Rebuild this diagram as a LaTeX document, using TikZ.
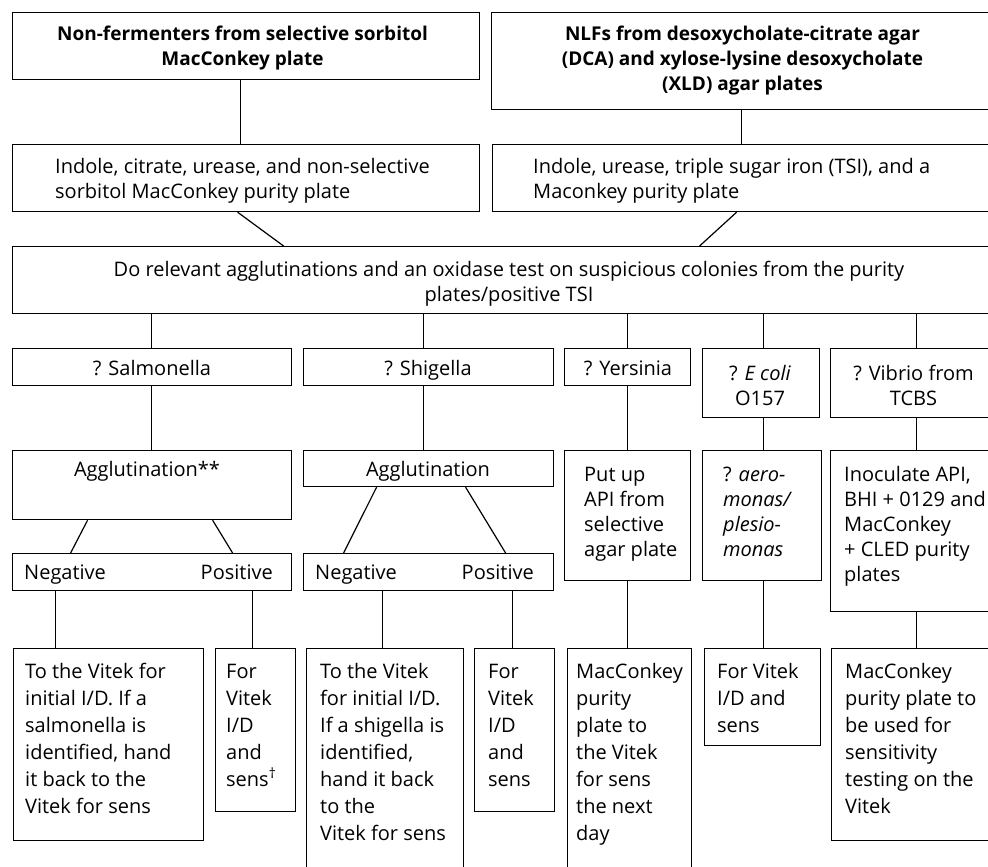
\documentclass[tikz,border=0pt]{standalone}
\usepackage{fontspec}
\setmainfont{Open Sans}
\begin{document}
\begin{tikzpicture}[x=1pt,y=-1pt,
  box/.style={draw, line width=1.2pt, rectangle, inner sep=0pt, anchor=north west},
  conn/.style={line width=1.2pt},
  tl/.style={anchor=north west, inner sep=0pt, align=left, font=\fontsize{20}{25}\selectfont},
  tc/.style={anchor=north, inner sep=0pt, align=center, font=\fontsize{20}{25}\selectfont},
  tb/.style={anchor=north, inner sep=0pt, align=center, font=\fontsize{19}{25}\selectfont\bfseries},
  tr/.style={anchor=north east, inner sep=0pt, align=right, font=\fontsize{20}{25}\selectfont},
  tw/.style={anchor=north west, inner sep=0pt, align=left, font=\fontsize{20}{27}\selectfont}
]
\useasboundingbox (0,0) rectangle (988,867);
\fill[white] (0,0) rectangle (988,867);
\clip (0,0) rectangle (988,867);

% boxes
\node[box, minimum width=467, minimum height=67] (A) at (12,12) {};
\node[box, minimum width=504, minimum height=97] (B) at (491,12) {};
\node[box, minimum width=467, minimum height=67] (C) at (12,144) {};
\node[box, minimum width=503, minimum height=67] (E) at (492,144) {};
\node[box, minimum width=998, minimum height=67] (D) at (12,246) {};
\node[box, minimum width=279, minimum height=37] (Sal) at (12,348) {};
\node[box, minimum width=250, minimum height=37] (Shig) at (303,348) {};
\node[box, minimum width=126, minimum height=37] (Yer) at (564,348) {};
\node[box, minimum width=117, minimum height=69] (Eco) at (702,348) {};
\node[box, minimum width=165, minimum height=69] (Vib) at (830,348) {};
\node[box, minimum width=279, minimum height=69] (AggA) at (12,450) {};
\node[box, minimum width=250, minimum height=36] (AggB) at (303,450) {};
\node[box, minimum width=126, minimum height=130] (Put) at (564,450) {};
\node[box, minimum width=119, minimum height=130] (Aero) at (702,450) {};
\node[box, minimum width=165, minimum height=161] (Inoc) at (830,450) {};
\node[box, minimum width=279, minimum height=37] (NPA) at (12,553) {};
\node[box, minimum width=250, minimum height=37] (NPB) at (303,553) {};
\node[box, minimum width=190, minimum height=192] (La) at (13,648) {};
\node[box, minimum width=80, minimum height=163] (Lb) at (215,648) {};
\node[box, minimum width=157, minimum height=232] (Lc) at (306,648) {};
\node[box, minimum width=80, minimum height=163] (Ld) at (474,648) {};
\node[box, minimum width=124, minimum height=232] (Le) at (567,648) {};
\node[box, minimum width=116, minimum height=97] (Lf) at (704,648) {};
\node[box, minimum width=164, minimum height=192] (Lg) at (831,648) {};

% texts
\node[tb] (tA) at (242.5,23.2) {\strut Non-fermenters from selective sorbitol\\MacConkey plate};
\node[tb] (tB) at (742.5,23.2) {\strut NLFs from desoxycholate-citrate agar\\(DCA) and xylose-lysine desoxycholate\\(XLD) agar plates};
\node[tl] (tC) at (55,155.5) {\strut Indole, citrate, urease, and non-selective\\sorbitol MacConkey purity plate};
\node[tl] (tE) at (533,155.5) {\strut Indole, urease, triple sugar iron (TSI), and a\\Maconkey purity plate};
\node[tc] (tD) at (509,258.5) {\strut Do relevant agglutinations and an oxidase test on suspicious colonies from the purity\\plates/positive TSI};
\node[tc] (tSal) at (152,357.5) {\strut ? Salmonella};
\node[tc] (tShig) at (428,357.5) {\strut ? Shigella};
\node[tc] (tYer) at (628,357.5) {\strut ? Yersinia};
\node[tc] (tEco) at (760,362.5) {\strut ? \textit{E coli}\\O157};
\node[tc] (tVib) at (913.5,362.5) {\strut ? Vibrio from\\TCBS};
\node[tc] (tAggA) at (147,459) {\strut Agglutination**};
\node[tc] (tAggB) at (428,459) {\strut Agglutination};
\node[tl] (tPut) at (584,464) {\strut Put up\\API from\\selective\\agar plate};
\node[tl] (tAero) at (723,464) {\strut ? \textit{aero-}\\\textit{monas/}\\\textit{plesio-}\\\textit{monas}};
\node[tl] (tInoc) at (844,464) {\strut Inoculate API,\\BHI + 0129 and\\MacConkey\\+ CLED purity\\plates};
\node[tl] (tNegA) at (24,561.5) {\strut Negative};
\node[tr] (tPosA) at (273,561.5) {\strut Positive};
\node[tl] (tNegB) at (315,561.5) {\strut Negative};
\node[tr] (tPosB) at (534,561.5) {\strut Positive};
\node[tw] (tLa) at (25,659.1) {\strut To the Vitek for\\initial I/D. If a\\salmonella is\\identified, hand\\it back to the\\Vitek for sens};
\node[tw] (tLb) at (226,659.1) {\strut For\\Vitek\\I/D\\and\\sens\textsuperscript{†}};
\node[tw] (tLc) at (320,659.1) {\strut To the Vitek\\for initial I/D.\\If a shigella is\\identified,\\hand it back\\to the\\Vitek for sens};
\node[tw] (tLd) at (488,659.1) {\strut For\\Vitek\\I/D\\and\\sens};
\node[tw] (tLe) at (576,659.1) {\strut MacConkey\\purity\\plate to\\the Vitek\\for sens\\the next\\day};
\node[tw] (tLf) at (717,659.1) {\strut For Vitek\\I/D and\\sens};
\node[tw] (tLg) at (845,659.1) {\strut MacConkey\\purity plate to\\be used for\\sensitivity\\testing on the\\Vitek};

% connectors
\draw[conn] ([xshift=-5.5pt]A.south) -- ([xshift=-5.5pt]C.north);
\draw[conn] ([xshift=-8.5pt]C.south) -- ([xshift=-228pt]D.north);
\draw[conn] ([xshift=-2pt]B.south) -- ([xshift=-2.5pt]E.north);
\draw[conn] ([xshift=-7.5pt]E.south) -- ([xshift=188pt]D.north);
\draw[conn] ([xshift=-360pt]D.south) -- ([xshift=-0.5pt]Sal.north);
\draw[conn] ([xshift=-88pt]D.south) -- ([xshift=-5pt]Shig.north);
\draw[conn] ([xshift=116pt]D.south) -- (Yer.north);
\draw[conn] ([xshift=252pt]D.south) -- ([xshift=2.5pt]Eco.north);
\draw[conn] ([xshift=405pt]D.south) -- ([xshift=3.5pt]Vib.north);
\draw[conn] ([xshift=-0.5pt]Sal.south) -- ([xshift=-0.5pt]AggA.north);
\draw[conn] ([xshift=-5pt]Shig.south) -- ([xshift=-5pt]AggB.north);
\draw[conn] (Yer.south) -- (Put.north);
\draw[conn] ([xshift=2.5pt]Eco.south) -- ([xshift=1.5pt]Aero.north);
\draw[conn] ([xshift=3.5pt]Vib.south) -- ([xshift=3.5pt]Inoc.north);
\draw[conn] ([xshift=-64.5pt]AggA.south) -- ([xshift=-81.5pt]NPA.north);
\draw[conn] ([xshift=60.5pt]AggA.south) -- ([xshift=80.5pt]NPA.north);
\draw[conn] ([xshift=-52pt]AggB.south) -- ([xshift=-85pt]NPB.north);
\draw[conn] ([xshift=37pt]AggB.south) -- ([xshift=77pt]NPB.north);
\draw[conn] ([xshift=-96.5pt]NPA.south) -- ([xshift=-53pt]La.north);
\draw[conn] ([xshift=100.5pt]NPA.south) -- ([xshift=-3pt]Lb.north);
\draw[conn] ([xshift=-46pt]NPB.south) -- ([xshift=-2.5pt]Lc.north);
\draw[conn] ([xshift=84pt]NPB.south) -- ([xshift=-2pt]Ld.north);
\draw[conn] (Put.south) -- ([xshift=-2pt]Le.north);
\draw[conn] ([xshift=1.5pt]Aero.south) -- ([xshift=1pt]Lf.north);
\draw[conn] ([xshift=3.5pt]Inoc.south) -- ([xshift=3pt]Lg.north);
\end{tikzpicture}
\end{document}
